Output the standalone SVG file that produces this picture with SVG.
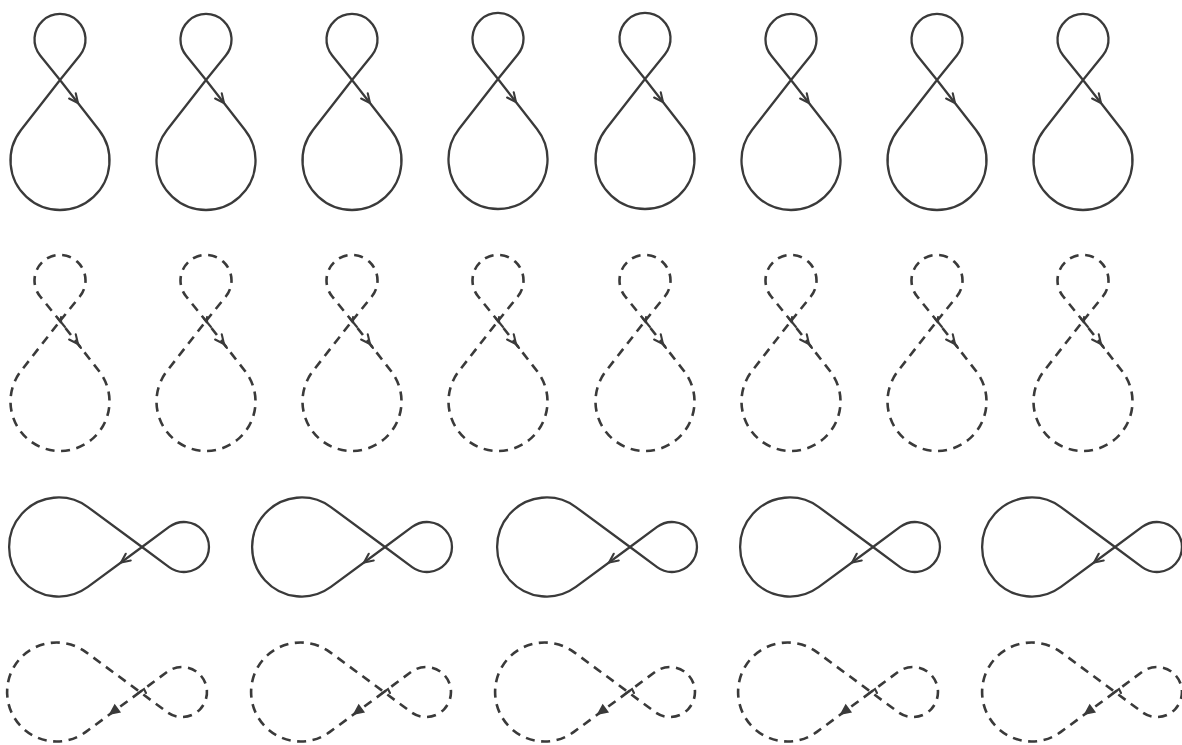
<svg xmlns="http://www.w3.org/2000/svg" xmlns:xlink="http://www.w3.org/1999/xlink" width="1182" height="745" viewBox="0 0 1182 745">
<style>
.ln{fill:none;stroke:#3a3a3a;stroke-width:2.3;stroke-linecap:round;stroke-linejoin:round}
.ds{fill:none;stroke:#3a3a3a;stroke-width:2.6;stroke-dasharray:9 6.5;stroke-linecap:butt}
.ah{fill:none;stroke:#3a3a3a;stroke-width:2.1;stroke-linecap:round;stroke-linejoin:miter}
.ahf{fill:#3a3a3a;stroke:#3a3a3a;stroke-width:1.5;stroke-linejoin:miter}
</style>
<defs>
<path id="v8" d="M0,0 L19.8,-24.5 A25.5,25.5 0 1 0 -19.8,-24.5 L0,0 L39,50 A49.5,49.5 0 1 1 -39,50 Z"/>
<path id="h8" d="M0,0 L-54.1,39.9 A49.5,49.5 0 1 1 -54.1,-39.9 L0,0 L27.1,20.1 A25,25 0 1 0 27.1,-20.1 Z"/>
<g id="vs"><use xlink:href="#v8" class="ln"/><path class="ah" d="M15.75,13.25 L18,23 L9.1,18.5"/></g>
<g id="vd"><use xlink:href="#v8" class="ds"/><path class="ah" d="M15.75,13.25 L18,23 L9.1,18.5 M18,23 L21,27"/><path class="ah" d="M-2,-2.5 L5,6 M1,-4 L1,1"/></g>
<g id="hs"><use xlink:href="#h8" class="ln"/><path class="ah" d="M-11.25,13.5 L-21,15.5 L-16.25,6.75"/></g>
<g id="hd"><use xlink:href="#h8" class="ds"/><path class="ahf" d="M-20.25,20 L-30,22 L-25.25,13.25 Z"/><path class="ah" d="M-3,2 L4,-3 L6,1"/></g>
</defs>
<g id="row1">
<g id="r1n1"><use xlink:href="#vs" x="60" y="80"/></g>
<g id="r1n2"><use xlink:href="#vs" x="206" y="80"/></g>
<g id="r1n3"><use xlink:href="#vs" x="352" y="80"/></g>
<g id="r1n4"><use xlink:href="#vs" x="498" y="79"/></g>
<g id="r1n5"><use xlink:href="#vs" x="645" y="79"/></g>
<g id="r1n6"><use xlink:href="#vs" x="791" y="80"/></g>
<g id="r1n7"><use xlink:href="#vs" x="937" y="80"/></g>
<g id="r1n8"><use xlink:href="#vs" x="1083" y="80"/></g>
</g>
<g id="row2">
<g id="r2n1"><use xlink:href="#vd" x="60" y="321"/></g>
<g id="r2n2"><use xlink:href="#vd" x="206" y="321"/></g>
<g id="r2n3"><use xlink:href="#vd" x="352" y="321"/></g>
<g id="r2n4"><use xlink:href="#vd" x="498" y="321"/></g>
<g id="r2n5"><use xlink:href="#vd" x="645" y="321"/></g>
<g id="r2n6"><use xlink:href="#vd" x="791" y="321"/></g>
<g id="r2n7"><use xlink:href="#vd" x="937" y="321"/></g>
<g id="r2n8"><use xlink:href="#vd" x="1083" y="321"/></g>
</g>
<g id="row3">
<g id="r3n1"><use xlink:href="#hs" x="142" y="547"/></g>
<g id="r3n2"><use xlink:href="#hs" x="385" y="547"/></g>
<g id="r3n3"><use xlink:href="#hs" x="630" y="547"/></g>
<g id="r3n4"><use xlink:href="#hs" x="873" y="547"/></g>
<g id="r3n5"><use xlink:href="#hs" x="1115" y="547"/></g>
</g>
<g id="row4">
<g id="r4n1"><use xlink:href="#hd" x="140" y="692"/></g>
<g id="r4n2"><use xlink:href="#hd" x="384" y="692"/></g>
<g id="r4n3"><use xlink:href="#hd" x="628" y="692"/></g>
<g id="r4n4"><use xlink:href="#hd" x="871" y="692"/></g>
<g id="r4n5"><use xlink:href="#hd" x="1115" y="692"/></g>
</g>
</svg>
